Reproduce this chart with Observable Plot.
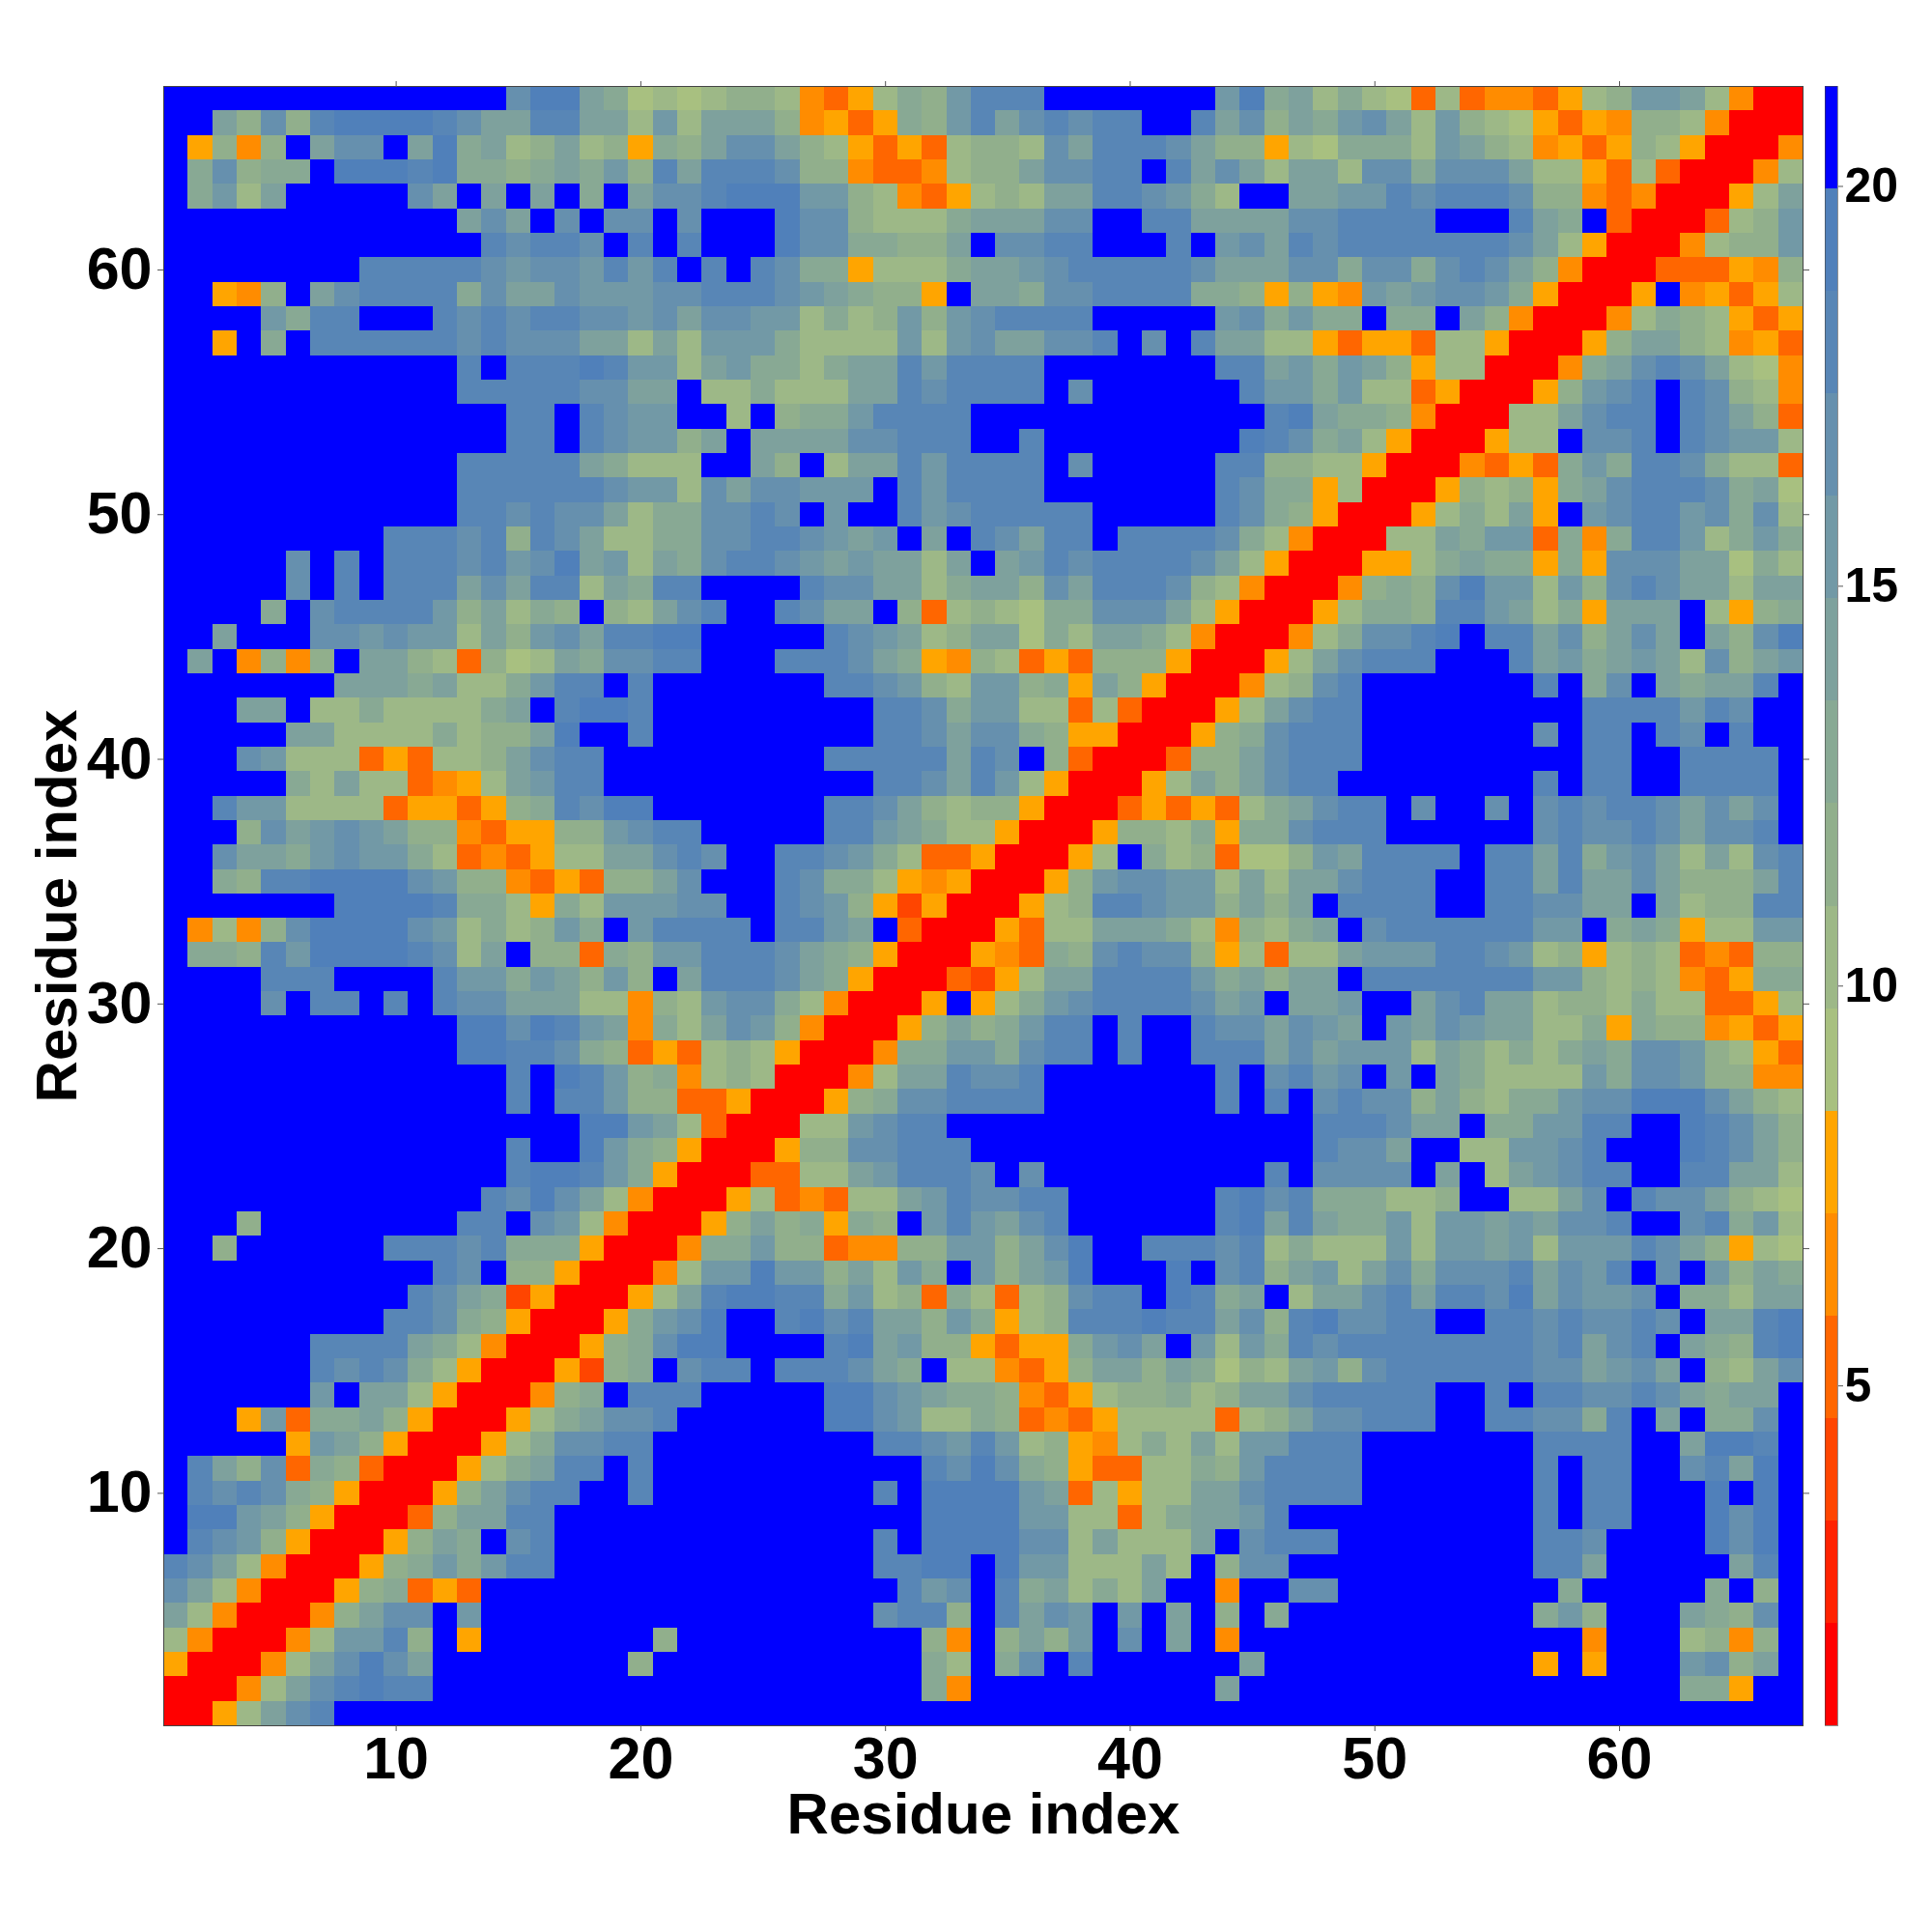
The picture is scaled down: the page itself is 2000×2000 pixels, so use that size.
<!DOCTYPE html>
<html>
<head>
<meta charset="utf-8">
<script src="https://cdn.jsdelivr.net/npm/d3@7"></script>
<script src="https://cdn.jsdelivr.net/npm/@observablehq/plot@0.6"></script>
<style>
html,body{margin:0;padding:0;background:#fff}
#wrap{position:relative;width:2000px;height:2000px}
#wrap svg{position:absolute;left:0;top:0;background:transparent}
</style>
</head>
<body>
<div id="wrap"></div>
<script>
// Lower triangle of the symmetric map: rows[y-1] holds x = 1..y, one colour level (hex digit) per residue pair
const rows = [
"0",
"00",
"500",
"7400",
"a7400",
"ca7400",
"dca7400",
"fdcb8500",
"feeba8500",
"fdcdc98500",
"fda8c39830"+"0",
"fffff5ba85"+"00",
"fff5b399a8"+"500",
"ffffffbfaa"+"7500",
"ffffffdcdc"+"97500",
"ffffffdddd"+"a97400",
"fffffffffd"+"dc98500",
"ffffffffff"+"dca92500",
"ffffffffff"+"fdcf88500",
"ff8ffffffd"+"ddcd999500",
"fff8ffffff"+"ffddfcb740"+"0",
"ffffffffff"+"fffdceca74"+"00",
"ffffffffff"+"ffffdeedb9"+"500",
"ffffffffff"+"ffffdffeb9"+"8500",
"ffffffffff"+"fffffffeeb"+"a7300",
"ffffffffff"+"ffffdfddb8"+"833500",
"ffffffffff"+"ffffdfedb8"+"9478700",
"ffffffffff"+"ffeeddc983"+"53787500",
"ffffffffff"+"ffeecedba4"+"97acb8400",
"ffffcfddfd"+"fdccaaa774"+"87bcc97400",
"ffffdddfff"+"fdbb9ba8b8"+"fadddca950"+"0",
"f998dbeeee"+"dc7af88398"+"bbdddca985"+"00",
"f4748ceeee"+"cb7978b9fb"+"ddddfddbaf"+"300",
"fffffffeee"+"ed997597bb"+"bccffdcb85"+"2500",
"ff98ddeeee"+"cb88435388"+"acfffdc997"+"54500",
"ffcaa9bcbb"+"97343577aa"+"cdcffddcb9"+"733500",
"fff8cabcba"+"88435588bc"+"ddfffffddb"+"a977500",
"ffdbb77773"+"553589dcee"+"fffffffddc"+"a8788500",
"fffff97a77"+"3457abddff"+"fffffffffd"+"dcadb7500",
"fffcb77735"+"3778acddff"+"fffffffddd"+"ddadcf8300",
"fffffaa777"+"79788aeffd"+"fffffffffd"+"dcacc98550"+"0",
"fffaaf7797"+"7779afdeed"+"fffffffffd"+"dc9bb77373"+"00",
"fffffffaaa"+"9a779bddfd"+"fffffffddc"+"b87bb895a8"+"500",
"faf4848faa"+"873867a9cc"+"ddfffdddca"+"9548735388"+"8500",
"ffafffccbc"+"bb7a8bcadd"+"eefffffdcb"+"a78aa697aa"+"97400",
"ffff9fcddd"+"db8a798f87"+"acdffdcaaf"+"83787699cc"+"ca7500",
"fffffcfdfd"+"ddacadd7a9"+"ddffffdcca"+"a79aa8cadd"+"dc87400",
"fffffcfdfd"+"ddcdbceab7"+"a9cddcbaba"+"a7afabdcdd"+"ddca7500",
"fffffffffd"+"ddcd8dca77"+"99ccddcbab"+"fafdcaddfd"+"dddc97400",
"ffffffffff"+"ffddcdcca7"+"99ccdcfbff"+"dbcdddddff"+"fffdc98500",
"ffffffffff"+"ffddddddcb"+"b7caccbbbf"+"dbddddffff"+"fffdc99570"+"0",
"ffffffffff"+"ffddddda97"+"77ffa8f7aa"+"dbddddfcff"+"fffdd88775"+"00",
"ffffffffff"+"ffffddfdcb"+"b8afaaaacc"+"dddffdffff"+"ffffedc9a7"+"500",
"ffffffffff"+"ffffddfdcb"+"bff7f899bd"+"dddfffffff"+"fffffdea99"+"8400",
"ffffffffff"+"ffdddddcca"+"af779777aa"+"dcddddfcff"+"ffffdbb9b7"+"73500",
"ffffffffff"+"ffdfdddedb"+"b7ab9979aa"+"dbddddffff"+"fffddab9ba"+"857700",
"ff5f9fdddd"+"ddcdcccaa7"+"a7bbb97777"+"b7bcaaccdf"+"cfdaa77535"+"5377500",
"ffffb9ddff"+"fdcdcddccb"+"caccbb7978"+"b8bcddddff"+"fffbc9b99f"+"99fa8400",
"ff548facdd"+"dd9caacbbb"+"ccdddcba98"+"85faa9ccdd"+"dd9985854b"+"abccb9500",
"ffffffffdd"+"dddcbccbdb"+"dfdfdc9957"+"779aabcddd"+"ddcaaacc9c"+"c9cdca8400",
"ffffffffff"+"fffdcddcfd"+"fdfffecc99"+"88afccddff"+"fdfbcadcdd"+"dddddca750"+"0",
"ffffffffff"+"ffacafcfcc"+"fcfffecc87"+"779aaaccff"+"ddaaaaccdd"+"ddfffda9f3"+"00",
"f9b7afffff"+"cafafaf9fa"+"ccdeeebb87"+"435787aadd"+"cb97ffaabb"+"dcdddc8843"+"400",
"f9c899feee"+"de9989a9b8"+"dadddc8843"+"34788accdd"+"fdaca7aa7c"+"c9ccca7753"+"7300",
"f5848faccf"+"ae9a78a785"+"98acca8753"+"537887cadd"+"dca8857699"+"97ba874535"+"87500",
"ffa8c8deee"+"edcaaddaa7"+"b7aaa84535"+"98bdacdcdd"+"ffdac8a9bc"+"a7b8765354"+"887400",
"ffffffffff"+"ffffceea96"+"7678874357"+"98bdddffff"+"fffbe9a797"+"6373443578"+"bba7400"
];
const residues = d3.range(1, 68);
const axisTicks = [10, 20, 30, 40, 50, 60];
const barTicks = [5, 10, 15, 20];
const levelColors = ["#ff0000","#ff2200","#ff4500","#ff6600","#ff8c00","#ffa500",
  "#a8c080","#9db887","#91af8c","#88a994","#7ea19d","#7299a6","#6690ae","#5886b6","#5080ba","#0000ff"];
const vMin = 0.75, vMax = 21.25;
const step = (vMax - vMin) / levelColors.length;
const edges = d3.range(levelColors.length + 1).map(k => vMin + k * step);
const thresholds = edges.slice(1, -1);
const levelValue = k => vMin + (k + 0.5) * step;

const cells = [];
for (const y of residues) for (const x of residues) {
  const r = rows[Math.max(x, y) - 1], c = r[Math.min(x, y) - 1];
  if (c !== undefined) cells.push({x, y, v: levelValue(parseInt(c, 16))});
}
const segments = levelColors.map((color, k) => ({lo: edges[k], hi: edges[k + 1], v: levelValue(k)}));

const W = 2000, H = 2000;
const font = {fontFamily: "'Liberation Sans', Arial, sans-serif", fontWeight: "bold", background: "transparent"};
const colorScale = {type: "threshold", domain: thresholds, range: levelColors};
const tickStyle = {tickSize: 6, stroke: "#555", strokeWidth: 1};

const main = Plot.plot({
  width: W, height: H,
  marginLeft: 169, marginRight: 134, marginTop: 89, marginBottom: 214,
  style: font,
  x: {domain: [0.5, 67.5], label: null},
  y: {domain: [0.5, 67.5], label: null},
  color: colorScale,
  marks: [
    Plot.rect(cells, {x1: d => d.x - 0.5, x2: d => d.x + 0.5, y1: d => d.y - 0.5, y2: d => d.y + 0.5, fill: "v", shapeRendering: "crispEdges"}),
    Plot.frame({stroke: "#444", strokeWidth: 1}),
    Plot.axisX({anchor: "bottom", ticks: axisTicks, tickFormat: d3.format("d"), label: null, fontSize: 61, fontWeight: "bold", tickPadding: 5, ...tickStyle}),
    Plot.axisX({anchor: "top", ticks: axisTicks, tickFormat: () => "", label: null, ...tickStyle}),
    Plot.axisY({anchor: "left", ticks: axisTicks, tickFormat: d3.format("d"), label: null, fontSize: 61, fontWeight: "bold", tickPadding: 6, ...tickStyle}),
    Plot.axisY({anchor: "right", ticks: axisTicks, tickFormat: () => "", label: null, ...tickStyle}),
    Plot.text(["Residue index"], {frameAnchor: "bottom", dy: 111, fontSize: 60, fontWeight: "bold", fill: "#000"}),
    Plot.text(["Residue index"], {frameAnchor: "left", textAnchor: "middle", dx: -110, rotate: -90, fontSize: 60, fontWeight: "bold", fill: "#000"})
  ]
});

const bar = Plot.plot({
  width: W, height: H,
  marginLeft: 1889, marginRight: 98, marginTop: 89, marginBottom: 214,
  style: font,
  x: {domain: [0, 1], axis: null},
  y: {domain: [vMin, vMax], label: null},
  color: colorScale,
  marks: [
    Plot.rect(segments, {x1: 0, x2: 1, y1: "lo", y2: "hi", fill: "v", shapeRendering: "crispEdges"}),
    Plot.frame({stroke: "#444", strokeWidth: 1, strokeOpacity: 0.6}),
    Plot.axisY({anchor: "right", ticks: barTicks, tickFormat: d3.format("d"), label: null, fontSize: 50, fontWeight: "bold", tickSize: 5, tickPadding: 2, stroke: "#555", strokeWidth: 1})
  ]
});

document.getElementById("wrap").append(main, bar);
</script>
</body>
</html>
